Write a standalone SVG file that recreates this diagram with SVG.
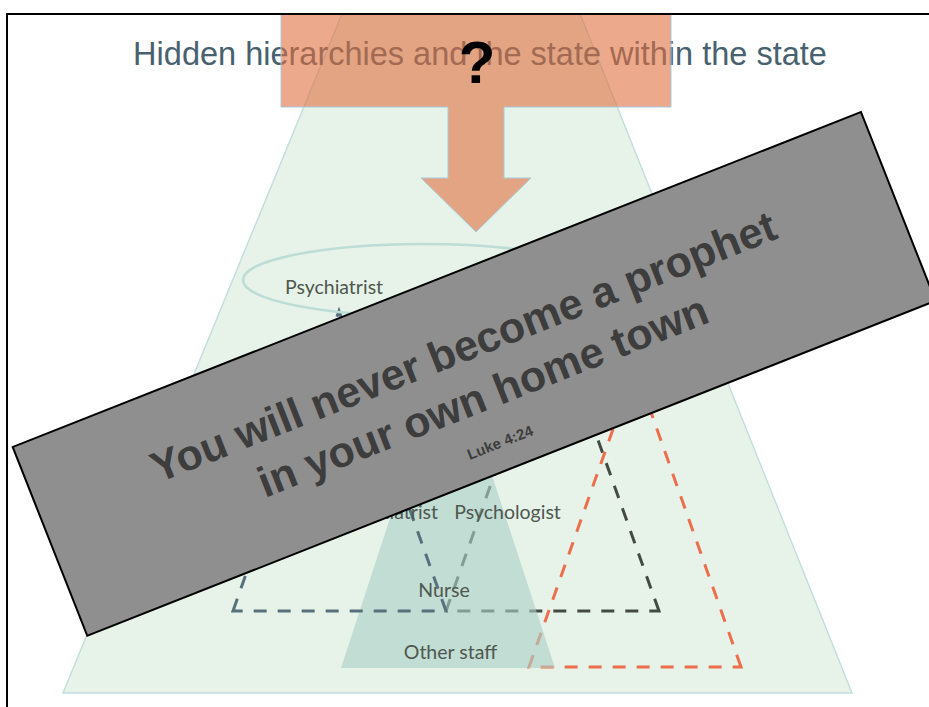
<svg xmlns="http://www.w3.org/2000/svg" width="929" height="707" viewBox="0 0 929 707">
  <defs>
    <style>
      .label { font-family: Lato, "Open Sans", "Liberation Sans", sans-serif; font-size: 19.5px; fill: #4e5750; }
      .dash { fill: none; stroke-width: 3; stroke-dasharray: 13 11; stroke-linejoin: miter; }
      .banner-text { font-family: "Liberation Sans", Arial, sans-serif; font-weight: bold; fill: #3d3d3d; text-anchor: middle; }
    </style>
    <clipPath id="slide">
      <rect x="7" y="14" width="930" height="700"/>
    </clipPath>
  </defs>

  <rect width="929" height="707" fill="#ffffff"/>

  <g clip-path="url(#slide)">
    <!-- overall organisation: pale pyramid -->
    <g id="organisation">
      <polygon points="342,14 580,14 852,693 63,693" fill="#e7f3e8" stroke="#c4dedf" stroke-width="1.5"/>
    </g>

    <!-- title -->
    <g id="title">
      <text x="480" y="65" text-anchor="middle" font-family="'Liberation Sans', Arial, sans-serif" font-size="32.5" fill="#48616e">Hidden hierarchies and the state within the state</text>
    </g>

    <!-- top-down pressure callout -->
    <g id="callout">
      <path d="M281,14 H671 V107 H504 V178 H531 L476,232 L421,178 H448 V107 H281 Z" fill="#e07040" fill-opacity="0.6" stroke="#a6cbe0" stroke-width="1"/>
      <text x="477" y="83" text-anchor="middle" font-family="'Liberation Sans', Arial, sans-serif" font-weight="bold" font-size="60" fill="#000000">?</text>
    </g>

    <!-- hierarchy triangles -->
    <g id="connectors">
      <path id="psychologist-triangle" class="dash" stroke="#444a43" d="M659,611 L552,311 L446,611 Z"/>
      <path id="parallel-triangle" class="dash" stroke="#ec6e4b" d="M741,667 L635,367 L529,667 Z"/>
    </g>

    <g id="staff-pyramid">
      <polygon points="448,341 555,668 341,668" fill="#abcec6" fill-opacity="0.62"/>
    </g>

    <g id="psychiatrist-triangle">
      <path class="dash" stroke="#56717c" d="M233,611 L339,311 L446,611 Z"/>
    </g>

    <g id="psychiatrist-top">
      <ellipse cx="423" cy="280" rx="180" ry="36" fill="none" stroke="#bcdcd6" stroke-width="2.5"/>
      <text class="label" x="334" y="294" text-anchor="middle">Psychiatrist</text>
    </g>

    <g id="psychiatrist">
      <text class="label" x="438" y="519" text-anchor="end">Psychiatrist</text>
    </g>
    <g id="psychologist">
      <text class="label" x="507.5" y="519" text-anchor="middle">Psychologist</text>
    </g>
    <g id="nurse">
      <text class="label" x="444" y="597" text-anchor="middle">Nurse</text>
    </g>
    <g id="other-staff">
      <text class="label" x="450.5" y="659" text-anchor="middle">Other staff</text>
    </g>

    <!-- quotation banner -->
    <g id="banner" transform="translate(12.7,447) rotate(-21.55)">
      <rect x="0" y="0" width="912" height="203" fill="#8f8f8f" stroke="#000000" stroke-width="2"/>
      <text class="banner-text" x="456" y="87" font-size="43">You will never become a prophet</text>
      <text class="banner-text" x="456" y="140" font-size="43">in your own home town</text>
      <text class="banner-text" x="455" y="180" font-size="15" fill="#4d4d4d">Luke 4:24</text>
    </g>
  </g>

  <!-- slide frame -->
  <rect x="7" y="14" width="940" height="720" fill="none" stroke="#000000" stroke-width="2"/>
</svg>
